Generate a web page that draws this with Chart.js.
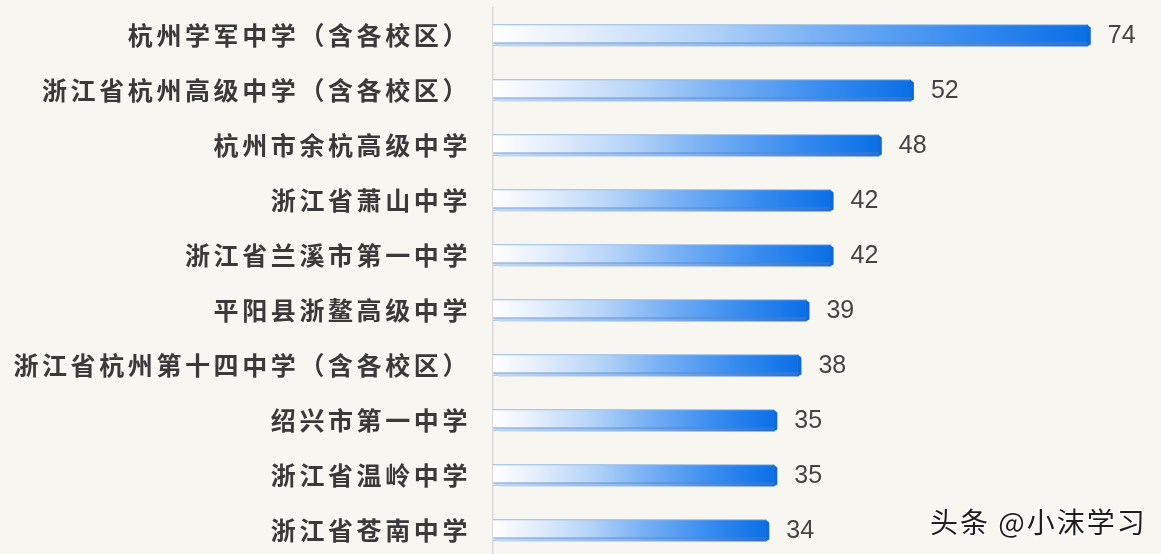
<!DOCTYPE html>
<html>
<head>
<meta charset="utf-8">
<script src="https://cdn.jsdelivr.net/npm/chart.js@4.4.0/dist/chart.umd.min.js"></script>
<style>
  html, body { margin: 0; padding: 0; background: #f8f6f1; overflow: hidden; }
  #wrap { position: relative; width: 1161px; height: 560px; }
  #mark { position: absolute; left: 930px; top: 501px; font: 28px "Noto Sans CJK SC", sans-serif; color: #1e1e1e; letter-spacing: 2px;
          text-shadow: 1px 1px 0 #fff, -1px -1px 0 #fff, 1px -1px 0 #fff, -1px 1px 0 #fff; white-space: nowrap; }
</style>
</head>
<body>
<div id="wrap">
  <canvas id="c" width="1161" height="560"></canvas>
  <div id="mark">头条 @小沫学习</div>
</div>
<script>
const schools = [
  '杭州学军中学（含各校区）',
  '浙江省杭州高级中学（含各校区）',
  '杭州市余杭高级中学',
  '浙江省萧山中学',
  '浙江省兰溪市第一中学',
  '平阳县浙鳌高级中学',
  '浙江省杭州第十四中学（含各校区）',
  '绍兴市第一中学',
  '浙江省温岭中学',
  '浙江省苍南中学'
];
const counts = [74, 52, 48, 42, 42, 39, 38, 35, 35, 34];

function barGradient(ctx) {
  const chart = ctx.chart;
  const xs = chart.scales.x;
  if (!xs || ctx.dataIndex === undefined) return '#4a9af0';
  const x0 = xs.getPixelForValue(0);
  const x1 = xs.getPixelForValue(ctx.raw);
  if (!isFinite(x0) || !isFinite(x1) || x1 === x0) return '#4a9af0';
  const g = chart.ctx.createLinearGradient(x0, 0, x1, 0);
  g.addColorStop(0, '#ffffff');
  g.addColorStop(0.15, '#e4eefc');
  g.addColorStop(0.35, '#b6d4f8');
  g.addColorStop(0.55, '#78b0f4');
  g.addColorStop(0.78, '#3a8df0');
  g.addColorStop(1, '#0a6fe6');
  return g;
}

const bar3d = {
  id: 'bar3d',
  afterDatasetsDraw(chart) {
    const ctx = chart.ctx;
    const meta = chart.getDatasetMeta(0);
    ctx.save();
    meta.data.forEach((el) => {
      const top = el.y - el.height / 2, bot = el.y + el.height / 2;
      const left = el.base, right = el.x;
      // right bevel face
      ctx.fillStyle = '#1268d6';
      ctx.beginPath();
      ctx.moveTo(right - 1, top);
      ctx.lineTo(right + 3, top + 3);
      ctx.lineTo(right + 3, bot - 1);
      ctx.lineTo(right - 1, bot + 1);
      ctx.closePath();
      ctx.fill();
      // bottom strip
      const g = ctx.createLinearGradient(left, 0, right, 0);
      g.addColorStop(0, '#c4d8f2');
      g.addColorStop(0.5, '#8ab4ec');
      g.addColorStop(1, '#2a6fd0');
      ctx.fillStyle = g;
      ctx.beginPath();
      ctx.moveTo(left, bot - 2);
      ctx.lineTo(right, bot - 2);
      ctx.lineTo(right, bot + 1);
      ctx.lineTo(left + 6, bot + 1);
      ctx.closePath();
      ctx.fill();
      ctx.strokeStyle = 'rgba(80,130,200,0.8)';
      ctx.lineWidth = 1;
      ctx.beginPath();
      ctx.moveTo(left, bot - 2.5);
      ctx.lineTo(right, bot - 2.5);
      ctx.stroke();
      // value label
      ctx.fillStyle = '#444444';
      ctx.font = '25px "Liberation Sans", Arial, sans-serif';
      ctx.textAlign = 'left';
      ctx.textBaseline = 'middle';
      ctx.fillText(String(el.$context.raw), right + 20, el.y + 1.5);
    });
    ctx.restore();
  }
};

const spacing = {
  id: 'spacing',
  beforeDraw(chart) { chart.ctx.letterSpacing = '3.6px'; },
  beforeDatasetsDraw(chart) { chart.ctx.letterSpacing = '0px'; }
};

new Chart(document.getElementById('c'), {
  type: 'bar',
  data: {
    labels: schools,
    datasets: [{
      data: counts,
      backgroundColor: barGradient,
      borderColor: 'rgba(110,160,225,0.95)',
      borderWidth: 1,
      barThickness: 21
    }]
  },
  options: {
    indexAxis: 'y',
    responsive: false,
    animation: false,
    devicePixelRatio: 1,
    layout: { padding: { top: 7.5, bottom: 2.5, right: 25, left: 0 } },
    plugins: { legend: { display: false }, tooltip: { enabled: false } },
    scales: {
      x: { display: false, min: 0, max: 80 },
      y: {
        afterFit(scale) {
          scale.width = 493;
          scale.paddingTop = 0;
          scale.paddingBottom = 0;
        },
        grid: { display: false, drawTicks: false },
        border: { display: true, color: '#d9d9d9', width: 1.5 },
        ticks: {
          padding: 22,
          color: '#3a3a3a',
          font: { family: '"Noto Sans CJK SC", sans-serif', size: 25, weight: 'bold' }
        }
      }
    }
  },
  plugins: [bar3d, spacing]
});
</script>
</body>
</html>
